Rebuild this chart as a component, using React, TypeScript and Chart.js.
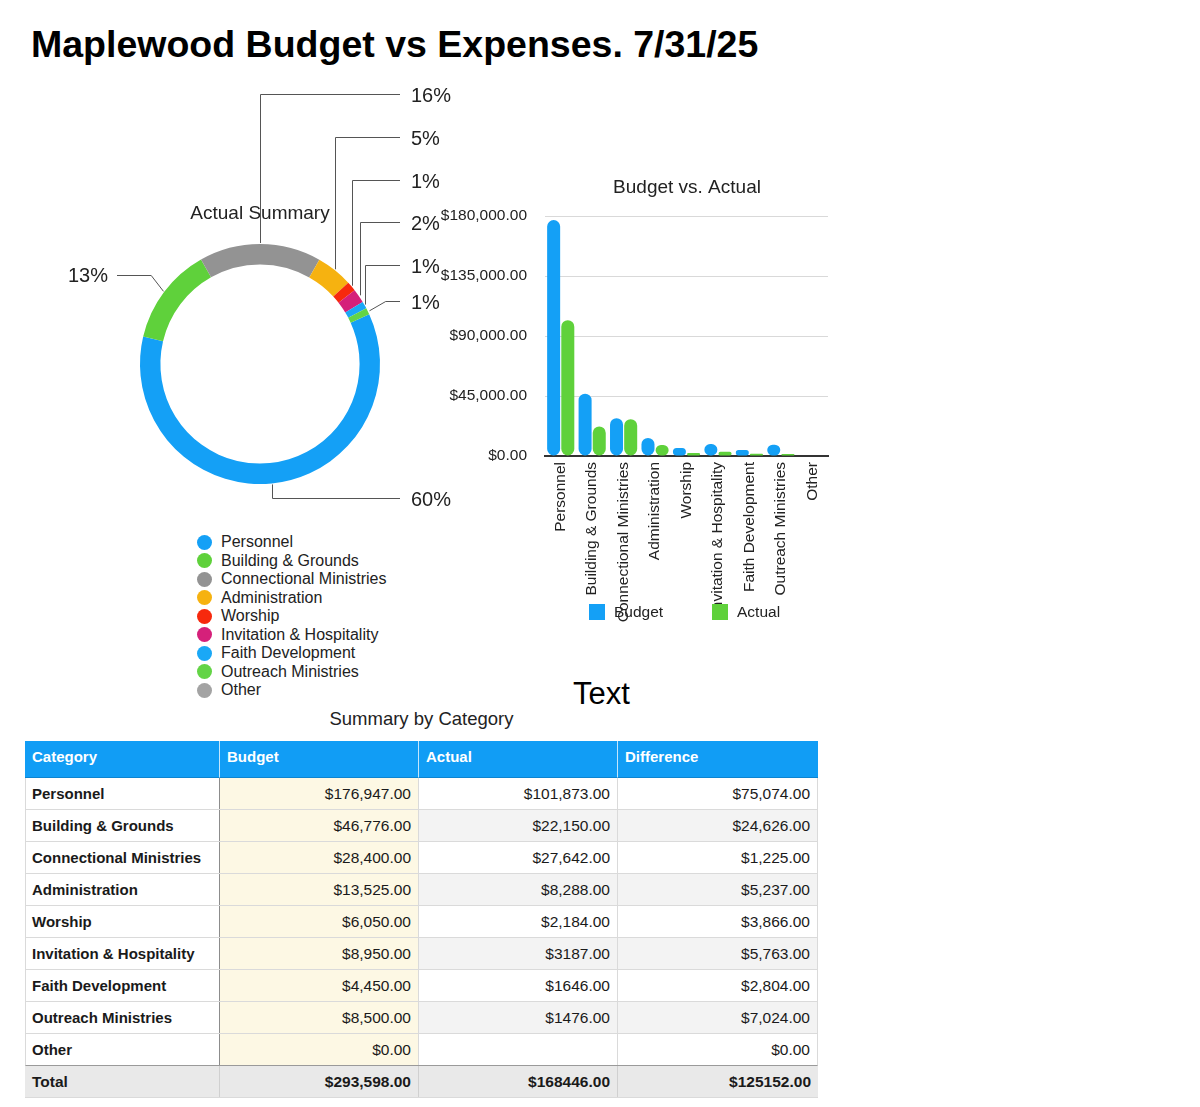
import React, { useEffect, useRef } from 'react';
import { Chart, registerables } from 'chart.js';

Chart.register(...registerables);

// ---------- data ----------
const categories = [
  'Personnel',
  'Building & Grounds',
  'Connectional Ministries',
  'Administration',
  'Worship',
  'Invitation & Hospitality',
  'Faith Development',
  'Outreach Ministries',
  'Other',
];
const budget = [176947, 46776, 28400, 13525, 6050, 8950, 4450, 8500, 0];
const actual = [101873, 22150, 27642, 8288, 2184, 3187, 1646, 1476, 0];

const budgetText = ['$176,947.00', '$46,776.00', '$28,400.00', '$13,525.00', '$6,050.00', '$8,950.00', '$4,450.00', '$8,500.00', '$0.00'];
const actualText = ['$101,873.00', '$22,150.00', '$27,642.00', '$8,288.00', '$2,184.00', '$3187.00', '$1646.00', '$1476.00', ''];
const differenceText = ['$75,074.00', '$24,626.00', '$1,225.00', '$5,237.00', '$3,866.00', '$5,763.00', '$2,804.00', '$7,024.00', '$0.00'];
const totalText = ['Total', '$293,598.00', '$168446.00', '$125152.00'];
const tableHeaders = ['Category', 'Budget', 'Actual', 'Difference'];

const yTickMin = 0;
const yTickMax = 180000;
const yTickStep = 45000;

const seriesLabels = ['Budget', 'Actual'];

// ---------- styles ----------
const FONT = '"Liberation Sans", Arial, Helvetica, sans-serif';
const sliceColors = ['#14a0f6', '#5fd13b', '#939393', '#f6b210', '#f7290d', '#d5207a', '#1aa8f6', '#63d446', '#a3a3a3'];
const BLUE = '#14a0f6';
const GREEN = '#5fd13b';

// layout (page coords)
const DON_LEFT = 30;
const DON_TOP = 80;
const DON_W = 440;
const DON_H = 440;
const pctLabelY = [498, 275, 94, 137, 180, 222, 265, 301, 0];
const BAR_LEFT = 430;
const BAR_TOP = 165;
const BAR_W = 420;
const BAR_H = 500;

Chart.defaults.font.family = FONT;
Chart.defaults.color = '#222';

const donutLabelPlugin = {
  id: 'donutLabels',
  afterDraw(chart: any) {
    const ctx = chart.ctx;
    const meta = chart.getDatasetMeta(0);
    const values: number[] = chart.data.datasets[0].data;
    const total = values.reduce((a, b) => a + b, 0);
    ctx.save();
    // title
    ctx.fillStyle = '#222';
    ctx.font = `19px ${FONT}`;
    ctx.textAlign = 'center';
    ctx.textBaseline = 'middle';
    ctx.fillText('Actual Summary', 260 - DON_LEFT, 214 - DON_TOP);

    ctx.strokeStyle = '#555';
    ctx.lineWidth = 1;
    ctx.font = `20px ${FONT}`;
    meta.data.forEach((arc: any, i: number) => {
      const v = values[i];
      if (!v) return;
      const p = arc.getProps(['x', 'y', 'startAngle', 'endAngle', 'outerRadius'], true);
      const mid = (p.startAngle + p.endAngle) / 2;
      const ax = p.x + Math.cos(mid) * (p.outerRadius + 1);
      const ay = p.y + Math.sin(mid) * (p.outerRadius + 1);
      const ly = pctLabelY[i] - DON_TOP;
      const right = Math.cos(mid) > -0.3;
      const endX = right ? 400 - DON_LEFT : 117 - DON_LEFT;
      ctx.beginPath();
      ctx.moveTo(Math.round(ax) + 0.5, ay);
      if (Math.abs(ay - ly) > 25 || Math.abs(Math.sin(mid)) > 0.95) {
        ctx.lineTo(Math.round(ax) + 0.5, Math.round(ly) + 0.5);
      } else {
        ctx.lineTo(ax + (right ? 17 : -12), Math.round(ly) + 0.5);
      }
      ctx.lineTo(endX, Math.round(ly) + 0.5);
      ctx.stroke();
      const txt = Math.round((v / total) * 100) + '%';
      ctx.fillStyle = '#222';
      ctx.textBaseline = 'middle';
      if (right) {
        ctx.textAlign = 'left';
        ctx.fillText(txt, 411 - DON_LEFT, ly + 2);
      } else {
        ctx.textAlign = 'right';
        ctx.fillText(txt, 108 - DON_LEFT, ly + 1);
      }
    });
    ctx.restore();
  },
};

const barDecorPlugin = {
  id: 'barDecor',
  afterDraw(chart: any) {
    const ctx = chart.ctx;
    ctx.save();
    ctx.fillStyle = '#222';
    ctx.font = `19px ${FONT}`;
    ctx.textAlign = 'center';
    ctx.textBaseline = 'middle';
    ctx.fillText('Budget vs. Actual', 687 - BAR_LEFT, 188 - BAR_TOP);
    // legend
    const items = [
      { x: 589, tx: 614 },
      { x: 712, tx: 737 },
    ];
    ctx.font = `15.5px ${FONT}`;
    ctx.textAlign = 'left';
    chart.data.datasets.forEach((ds: any, i: number) => {
      const it = items[i];
      ctx.fillStyle = ds.backgroundColor;
      ctx.fillRect(it.x - BAR_LEFT, 604 - BAR_TOP, 16, 16);
      ctx.fillStyle = '#222';
      ctx.fillText(ds.label, it.tx - BAR_LEFT, 613 - BAR_TOP);
    });
    ctx.restore();
  },
};

const money = (v: number) =>
  '$' + Number(v).toLocaleString('en-US', { minimumFractionDigits: 2, maximumFractionDigits: 2 });

export default function App() {
  const donutRef = useRef<HTMLCanvasElement>(null);
  const barRef = useRef<HTMLCanvasElement>(null);

  useEffect(() => {
    const donut = new Chart(donutRef.current as HTMLCanvasElement, {
      type: 'doughnut',
      data: {
        labels: categories,
        datasets: [
          {
            data: actual,
            backgroundColor: sliceColors,
            borderWidth: 0,
          },
        ],
      },
      options: {
        responsive: false,
        animation: false,
        cutout: '83%',
        rotation: 65.5,
        layout: { padding: { left: 110, right: 90, top: 164, bottom: 36 } },
        plugins: { legend: { display: false }, tooltip: { enabled: false } },
      },
      plugins: [donutLabelPlugin],
    } as any);

    const bar = new Chart(barRef.current as HTMLCanvasElement, {
      type: 'bar',
      data: {
        labels: categories,
        datasets: [
          {
            label: seriesLabels[0],
            data: budget,
            backgroundColor: BLUE,
            borderRadius: 7,
            borderSkipped: false,
            categoryPercentage: 0.9,
            barPercentage: 0.92,
          },
          {
            label: seriesLabels[1],
            data: actual,
            backgroundColor: GREEN,
            borderRadius: 7,
            borderSkipped: false,
            categoryPercentage: 0.9,
            barPercentage: 0.92,
          },
        ],
      },
      options: {
        responsive: false,
        animation: false,
        layout: { padding: { top: 51, right: 22, left: 0, bottom: 0 } },
        plugins: { legend: { display: false }, tooltip: { enabled: false } },
        scales: {
          x: {
            grid: { display: false, drawTicks: false },
            border: { display: true, color: '#333', width: 2 },
            ticks: {
              autoSkip: false,
              minRotation: 90,
              maxRotation: 90,
              padding: 6,
              color: '#222',
              font: { size: 15.5 },
            },
            afterFit: (s: any) => {
              s.height = 209;
            },
          },
          y: {
            min: yTickMin,
            max: yTickMax,
            ticks: {
              stepSize: yTickStep,
              padding: 18,
              color: '#222',
              font: { size: 15.5 },
              callback: (v: any) => money(v),
            },
            grid: {
              drawTicks: false,
              color: (c: any) => (c.tick && c.tick.value === 0 ? 'rgba(0,0,0,0)' : '#d9d9d9'),
            },
            border: { display: false },
            afterFit: (s: any) => {
              s.width = 115;
            },
          },
        },
      },
      plugins: [barDecorPlugin],
    } as any);

    return () => {
      donut.destroy();
      bar.destroy();
    };
  }, []);

  const colW = [195, 199, 199, 200];
  const cellBase: React.CSSProperties = {
    boxSizing: 'border-box',
    height: '100%',
    overflow: 'hidden',
    whiteSpace: 'nowrap',
  };

  return (
    <div
      style={{
        position: 'absolute',
        left: 0,
        top: 0,
        width: 1200,
        height: 1107,
        background: '#fff',
        fontFamily: FONT,
        color: '#111',
        overflow: 'hidden',
      }}
    >
      <div
        style={{
          position: 'absolute',
          left: 31,
          top: 26,
          fontSize: 37.5,
          fontWeight: 'bold',
          lineHeight: 1,
          whiteSpace: 'nowrap',
          color: '#000',
        }}
      >
        Maplewood Budget vs Expenses. 7/31/25
      </div>

      <canvas
        ref={donutRef}
        width={DON_W}
        height={DON_H}
        style={{ position: 'absolute', left: DON_LEFT, top: DON_TOP, width: DON_W, height: DON_H }}
      />
      <canvas
        ref={barRef}
        width={BAR_W}
        height={BAR_H}
        style={{ position: 'absolute', left: BAR_LEFT, top: BAR_TOP, width: BAR_W, height: BAR_H }}
      />

      {/* doughnut legend */}
      <div style={{ position: 'absolute', left: 196, top: 533 }}>
        {categories.map((c, i) => (
          <div key={c} style={{ display: 'flex', alignItems: 'center', height: 18.5 }}>
            <span
              style={{
                display: 'inline-block',
                width: 15,
                height: 15,
                borderRadius: '50%',
                background: sliceColors[i],
                marginLeft: 1,
                marginRight: 9,
              }}
            />
            <span style={{ fontSize: 16, color: '#222', lineHeight: '18.5px' }}>{c}</span>
          </div>
        ))}
      </div>

      <div style={{ position: 'absolute', left: 573, top: 678, fontSize: 31, lineHeight: 1, color: '#000' }}>Text</div>

      <div
        style={{
          position: 'absolute',
          left: 25,
          top: 710,
          width: 793,
          textAlign: 'center',
          fontSize: 18.5,
          lineHeight: 1,
          color: '#222',
        }}
      >
        Summary by Category
      </div>

      {/* table */}
      <div style={{ position: 'absolute', left: 25, top: 741, width: 793 }}>
        <div style={{ display: 'flex', height: 37, background: '#119df5' }}>
          {tableHeaders.map((h, j) => (
            <div
              key={h}
              style={{
                ...cellBase,
                width: colW[j],
                paddingLeft: 7,
                lineHeight: '32px',
                color: '#fff',
                fontWeight: 'bold',
                fontSize: 15,
                borderRight: j < 3 ? '1px solid rgba(255,255,255,0.75)' : 'none',
                borderBottom: '1px solid #0d84d0',
              }}
            >
              {h}
            </div>
          ))}
        </div>
        {categories.map((c, i) => {
          const alt = i % 2 === 1 ? '#f3f3f3' : '#fff';
          const vals = [budgetText[i], actualText[i], differenceText[i]];
          return (
            <div
              key={c}
              style={{
                display: 'flex',
                height: 32,
                boxSizing: 'border-box',
                borderBottom: i < categories.length - 1 ? '1px solid #dadada' : '1px solid #9a9a9a',
                borderLeft: '1px solid #dadada',
                borderRight: '1px solid #dadada',
              }}
            >
              <div
                style={{
                  ...cellBase,
                  width: colW[0] - 1,
                  paddingLeft: 6,
                  lineHeight: '31px',
                  fontWeight: 'bold',
                  fontSize: 15,
                  color: '#1a1a1a',
                  background: '#fff',
                  borderRight: '1px solid #8c8c8c',
                }}
              >
                {c}
              </div>
              {vals.map((v, j) => (
                <div
                  key={j}
                  style={{
                    ...cellBase,
                    width: j === 2 ? colW[3] - 1 : colW[j + 1],
                    paddingRight: 7,
                    textAlign: 'right',
                    lineHeight: '31px',
                    fontSize: 15.5,
                    color: '#1a1a1a',
                    background: j === 0 ? '#fdf8e4' : alt,
                    borderRight: j < 2 ? '1px solid #dadada' : 'none',
                  }}
                >
                  {v}
                </div>
              ))}
            </div>
          );
        })}
        <div
          style={{
            display: 'flex',
            height: 32,
            boxSizing: 'border-box',
            background: '#e9e9e9',
            borderBottom: '1px solid #dadada',
          }}
        >
          {totalText.map((t, j) => (
            <div
              key={j}
              style={{
                ...cellBase,
                width: colW[j],
                paddingLeft: j === 0 ? 7 : 0,
                paddingRight: j === 0 ? 0 : 7,
                textAlign: j === 0 ? 'left' : 'right',
                lineHeight: '32px',
                fontWeight: 'bold',
                fontSize: 15.5,
                color: '#1a1a1a',
                borderRight: j < 3 ? '1px solid #d0d0d0' : 'none',
              }}
            >
              {t}
            </div>
          ))}
        </div>
      </div>
    </div>
  );
}
